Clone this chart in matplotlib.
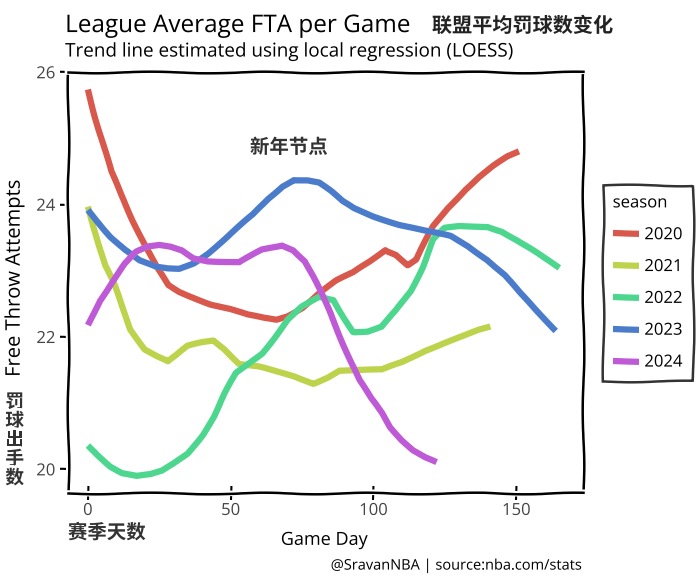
import matplotlib
matplotlib.use('Agg')
import matplotlib.pyplot as plt

# 各赛季罚球趋势
seasons = ['2020', '2021', '2022', '2023', '2024']
colors = ['#d9584c', '#bdd34b', '#4dd68e', '#4b7bcb', '#bf5ad6']

day_2020 = [0, 4, 8, 12, 16, 20, 24, 28, 32, 37, 43, 50, 56, 62, 66, 70, 75, 81, 87, 93, 99, 104, 108, 112, 115, 118, 121, 126, 132, 137, 142, 147, 151]
fta_2020 = [25.74, 25.12, 24.50, 24.12, 23.75, 23.40, 23.05, 22.78, 22.68, 22.60, 22.50, 22.42, 22.33, 22.28, 22.26, 22.32, 22.45, 22.67, 22.85, 22.97, 23.15, 23.32, 23.25, 23.09, 23.17, 23.42, 23.67, 23.95, 24.23, 24.42, 24.58, 24.72, 24.80]

day_2021 = [0, 3, 6, 9, 12, 15, 20, 24, 28, 31, 35, 40, 44, 48, 53, 60, 66, 72, 79, 84, 88, 94, 103, 110, 118, 125, 132, 137, 141]
fta_2021 = [23.97, 23.55, 23.08, 22.80, 22.45, 22.12, 21.82, 21.72, 21.63, 21.72, 21.86, 21.92, 21.95, 21.82, 21.60, 21.55, 21.47, 21.40, 21.30, 21.40, 21.50, 21.50, 21.50, 21.62, 21.80, 21.92, 22.02, 22.10, 22.15]

day_2022 = [0, 4, 8, 12, 17, 22, 26, 30, 35, 40, 44, 48, 52, 57, 61, 65, 70, 75, 81, 86, 89, 93, 98, 103, 108, 113, 117, 121, 125, 130, 135, 140, 145, 150, 155, 160, 165]
fta_2022 = [20.36, 20.20, 20.05, 19.95, 19.90, 19.92, 19.97, 20.08, 20.24, 20.52, 20.80, 21.15, 21.45, 21.62, 21.76, 21.98, 22.26, 22.45, 22.60, 22.56, 22.35, 22.08, 22.08, 22.15, 22.40, 22.70, 23.05, 23.47, 23.64, 23.67, 23.67, 23.67, 23.60, 23.47, 23.33, 23.18, 23.04]

day_2023 = [0, 4, 8, 13, 18, 24, 28, 32, 37, 42, 47, 53, 58, 63, 68, 72, 77, 81, 85, 89, 93, 100, 109, 118, 127, 133, 140, 146, 151, 157, 164]
fta_2023 = [23.92, 23.72, 23.52, 23.32, 23.15, 23.05, 23.03, 23.03, 23.12, 23.27, 23.45, 23.67, 23.85, 24.08, 24.28, 24.38, 24.37, 24.33, 24.20, 24.05, 23.95, 23.83, 23.70, 23.60, 23.52, 23.38, 23.17, 22.93, 22.67, 22.40, 22.10]

day_2024 = [0, 4, 9, 13, 17, 21, 25, 29, 33, 37, 42, 48, 53, 57, 61, 65, 68, 72, 76, 79, 82, 85, 88, 92, 95, 99, 103, 106, 110, 114, 118, 122]
fta_2024 = [22.18, 22.55, 22.86, 23.10, 23.28, 23.36, 23.39, 23.37, 23.32, 23.20, 23.15, 23.13, 23.12, 23.22, 23.32, 23.36, 23.39, 23.32, 23.15, 22.90, 22.62, 22.35, 22.05, 21.65, 21.35, 21.07, 20.85, 20.64, 20.45, 20.29, 20.18, 20.10]

days = [day_2020, day_2021, day_2022, day_2023, day_2024]
ftas = [fta_2020, fta_2021, fta_2022, fta_2023, fta_2024]

x_ticks = [0, 50, 100, 150]
y_ticks = [20, 22, 24, 26]

plt.xkcd(scale=0.8, length=120, randomness=2)
plt.rcParams['font.family'] = ['Open Sans', 'Noto Sans CJK SC', 'DejaVu Sans']
cjk = ['Noto Sans CJK SC', 'DejaVu Sans']

fig = plt.figure(figsize=(7, 5.83), dpi=100)
ax = fig.add_axes([0.097, 0.154, 0.736, 0.722])

for s, c, d, f in zip(seasons, colors, days, ftas):
    ax.plot(d, f, color=c, lw=4.5, label=s, solid_capstyle='butt')

ax.set_xlim(-7, 173.4)
ax.set_ylim(19.64, 26.0)
ax.set_xticks(x_ticks)
ax.set_yticks(y_ticks)
ax.tick_params(axis='y', direction='out', length=6, width=1.5, labelsize=12, labelcolor='#444444', pad=3)
ax.tick_params(axis='x', direction='inout', length=10, width=1.5, labelsize=12, labelcolor='#444444', pad=2)
for sp in ax.spines.values():
    sp.set_linewidth(1.8)

# 图例
leg = ax.legend(title='season', loc='upper left', bbox_to_anchor=(0.861, 0.682),
                bbox_transform=fig.transFigure, frameon=True, fancybox=False,
                edgecolor='black', fontsize=12, title_fontsize=12,
                labelspacing=0.95, handlelength=1.6, handletextpad=0.3,
                borderpad=0.6, borderaxespad=0, alignment='left')
leg.get_frame().set_linewidth(1.8)

# 标题与注释
fig.text(0.093, 0.945, 'League Average FTA per Game', fontsize=17.5, va='baseline', ha='left')
fig.text(0.617, 0.945, '联盟平均罚球数变化', fontsize=14.5, fontweight='bold', family=cjk,
         va='baseline', ha='left', color='#222222')
fig.text(0.093, 0.903, 'Trend line estimated using local regression (LOESS)', fontsize=13.6,
         va='baseline', ha='left')
ax.text(70.4, 24.86, '新年节点', fontsize=14, fontweight='bold', family=cjk,
        ha='center', va='center', color='#333333')
fig.text(0.021, 0.523, 'Free Throw Attempts', rotation=90, fontsize=14.5, ha='center', va='center')
fig.text(0.021, 0.245, '罚\n球\n出\n手\n数', fontsize=13.5, fontweight='bold', family=cjk,
         ha='center', va='center', linespacing=1.0, color='#333333')
fig.text(0.097, 0.086, '赛季天数', fontsize=14, fontweight='bold', family=cjk,
         ha='left', va='center', color='#333333')
fig.text(0.463, 0.074, 'Game Day', fontsize=13, ha='center', va='center')
fig.text(0.833, 0.029, '@SravanNBA | source:nba.com/stats', fontsize=10.5, ha='right', va='center')

fig.savefig('out.png', dpi=100)
